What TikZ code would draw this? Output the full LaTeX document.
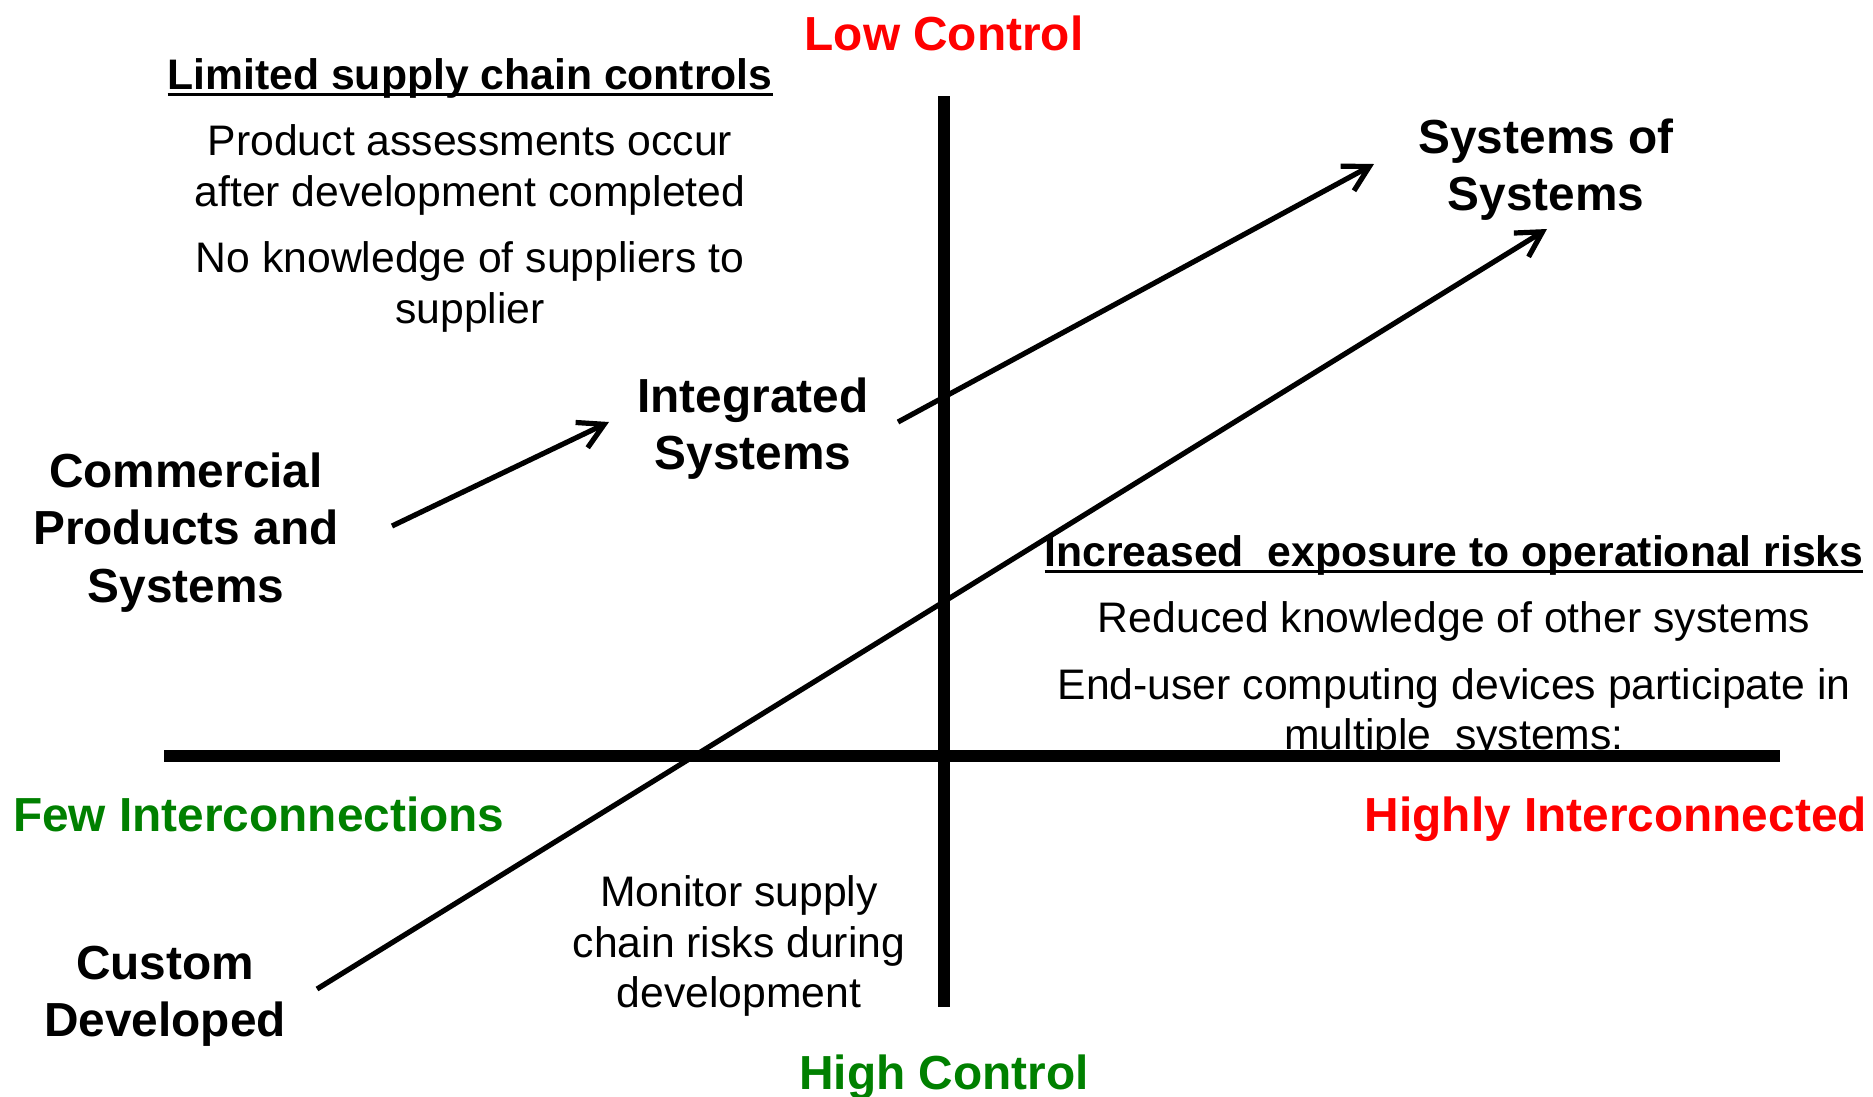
\documentclass[tikz,border=0pt]{standalone}
\usepackage{fontspec}
\setmainfont{Liberation Sans}
\usetikzlibrary{arrows.meta,calc}
\definecolor{myred}{RGB}{255,0,0}
\definecolor{mygreen}{RGB}{0,128,0}
\newcommand\myul[1]{\setbox0\hbox{#1}\rlap{\rule[-7pt]{\wd0}{3pt}}\box0}
\tikzset{
 big/.style={font=\fontsize{47.8}{57.5}\selectfont\bfseries, align=center, anchor=base, inner sep=0pt},
 body/.style={font=\fontsize{42.7}{50.5}\selectfont, align=center, anchor=base, inner sep=0pt},
 head/.style={font=\fontsize{42.7}{50.5}\selectfont\bfseries, anchor=base, inner sep=0pt},
 axisline/.style={line width=12pt},
 arr/.style={line width=5.2pt, -{Straight Barb[length=25pt,width=28pt,line width=5.2pt]}},
}
\begin{document}
\begin{tikzpicture}[x=1pt,y=-1pt]
\useasboundingbox (0,0) rectangle (1873,1096);
% axis labels
\node[big,text=myred] (low) at (944,50) {Low Control};
\node[big,text=mygreen] (high) at (944,1089) {High Control};
\node[big,text=mygreen,anchor=base west] (few) at (13,831) {Few Interconnections};
\node[big,text=myred,anchor=base east] (highly) at (1867,831) {Highly Interconnected};
% upper-left quadrant (base anchor = last line)
\node[head] (lim) at (470,89) {\myul{Limited supply chain controls}};
\node[body] (prod) at (470,206) {Product assessments occur\\after development completed};
\node[body] (know) at (470,323) {No knowledge of suppliers to\\supplier};
% categories
\node[big] (integ) at (753,469.5) {Integrated\\Systems};
\node[big] (comm) at (186,602) {Commercial\\Products and\\Systems};
\node[big] (sos) at (1546,210.5) {Systems of\\Systems};
\node[big] (cust) at (165,1036.5) {Custom\\Developed};
% right quadrant
\node[head] (incr) at (1454,566) {\myul{Increased\ \ exposure to operational risks}};
\node[body] (red) at (1454,632.5) {Reduced knowledge of other systems};
\node[body] (end) at (1454,749.5) {End-user computing devices participate in\\multiple\ \ systems:};
% lower quadrant
\node[body] (mon) at (739,1007.5) {Monitor supply\\chain risks during\\development};
% axes
\draw[axisline] (164,756) -- (1780,756);
\draw[axisline] (944,96) -- (944,1007);
% arrows
\draw[arr] ($(comm.base)+(206,-76)$) -- ($(integ.base)+(-144,-47.5)$);
\draw[arr] ($(integ.base)+(145,-47.5)$) -- ($(sos.base)+(-172,-46.5)$);
\draw[arr] ($(cust.base)+(152,-47.5)$) -- ($(sos.base)+(1,18.5)$);
\end{tikzpicture}
\end{document}
